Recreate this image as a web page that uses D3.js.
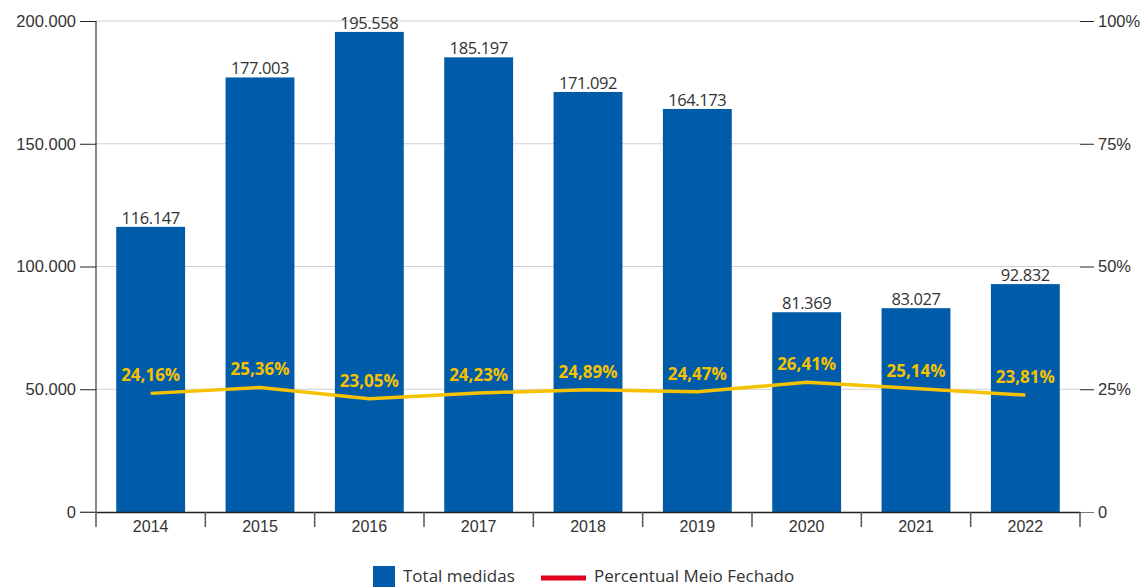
<!DOCTYPE html>
<html>
<head>
<meta charset="utf-8">
<script src="https://cdn.jsdelivr.net/npm/d3@7"></script>
<style>
  body { margin: 0; background: #fff; }
  svg { font-family: "Open Sans", "Noto Sans", sans-serif; }
</style>
</head>
<body>
<script>
// chart data
const years = ['2014','2015','2016','2017','2018','2019','2020','2021','2022'];
const totalMedidas = [116147,177003,195558,185197,171092,164173,81369,83027,92832];
const percMeioFechado = [24.16,25.36,23.05,24.23,24.89,24.47,26.41,25.14,23.81];
const leftTicks = [0,50000,100000,150000,200000];
const rightTicks = [0,25,50,75,100];

const W = 1142, H = 587;
const margin = {top:21, right:62, bottom:75, left:96};
const width = W - margin.left - margin.right;
const height = H - margin.top - margin.bottom;

const svg = d3.select("body").append("svg")
    .attr("width", W)
    .attr("height", H);
const g = svg.append("g")
    .attr("transform", `translate(${margin.left},${margin.top})`);

const ptBR = d3.formatLocale({decimal:",", thousands:".", grouping:[3], currency:["R$",""]});
const fmtInt = ptBR.format(",d");
const fmtPct = ptBR.format(".2f");

const x = d3.scaleBand().domain(years).range([0,width]).paddingInner(0.37).paddingOuter(0.185);
const xb = d3.scaleBand().domain(years).range([0,width]);
const y = d3.scaleLinear().domain([0,200000]).range([height,0]);
const y2 = d3.scaleLinear().domain([0,100]).range([height,0]);

//gridlines
g.selectAll(".grid")
    .data(leftTicks.filter(d => d > 0))
    .enter().append("line")
    .attr("x1",0).attr("x2",width)
    .attr("y1",d => y(d)).attr("y2",d => y(d))
    .attr("stroke","#d0d0d0").attr("stroke-width",1);

//bars
g.selectAll(".bar")
    .data(years)
    .enter().append("rect")
    .attr("x",d => x(d))
    .attr("width",x.bandwidth())
    .attr("y",(d,i) => y(totalMedidas[i]))
    .attr("height",(d,i) => height - y(totalMedidas[i]))
    .attr("fill","#005ca9");

g.selectAll(".barlabel")
    .data(years)
    .enter().append("text")
    .attr("x",d => x(d) + x.bandwidth()/2)
    .attr("y",(d,i) => y(totalMedidas[i]) - 3)
    .attr("text-anchor","middle")
    .style("font-size","16.5px")
    .style("letter-spacing","-0.4px")
    .attr("fill","#333")
    .text((d,i) => fmtInt(totalMedidas[i]));

//left axis
const leftAxis = g.append("g")
    .call(d3.axisLeft(y).tickValues(leftTicks).tickFormat(fmtInt).tickSize(16).tickPadding(4));
leftAxis.select(".domain").attr("stroke","#111").attr("d",`M0,0V${height}`);
leftAxis.selectAll(".tick line").attr("stroke","#222");
leftAxis.selectAll(".tick text").style("font-size","16.5px").attr("fill","#333");

//right axis
const rightAxis = g.append("g")
    .attr("transform",`translate(${width},0)`)
    .call(d3.axisRight(y2).tickValues(rightTicks).tickFormat(d => d === 0 ? "0" : d + "%").tickSize(14).tickPadding(4));
rightAxis.select(".domain").remove();
rightAxis.selectAll(".tick line").attr("stroke","#222");
rightAxis.selectAll(".tick text").style("font-size","16.5px").attr("fill","#333");
rightAxis.select(".tick line").attr("stroke","#777");

//bottom axis
const bottomAxis = g.append("g")
    .attr("transform",`translate(0,${height})`)
    .call(d3.axisBottom(xb).tickSize(0).tickPadding(9));
bottomAxis.select(".domain").attr("stroke","#222").attr("stroke-width",1.5);
bottomAxis.selectAll(".tick text").style("font-size","16px").attr("fill","#333");
bottomAxis.selectAll(".sep")
    .data(d3.range(years.length + 1))
    .enter().append("line")
    .attr("x1",i => i * xb.step()).attr("x2",i => i * xb.step())
    .attr("y1",0).attr("y2",15)
    .attr("stroke","#555").attr("stroke-width",1.5);
g.append("line")
    .attr("x1",-16).attr("x2",0)
    .attr("y1",height).attr("y2",height)
    .attr("stroke","#777");

//line
const line = d3.line()
    .x((d,i) => x(years[i]) + x.bandwidth()/2)
    .y(d => y2(d));
g.append("path")
    .datum(percMeioFechado)
    .attr("d",line)
    .attr("fill","none")
    .attr("stroke","#f6c200")
    .attr("stroke-width",3.5);

g.selectAll(".pctlabel")
    .data(percMeioFechado)
    .enter().append("text")
    .attr("x",(d,i) => x(years[i]) + x.bandwidth()/2)
    .attr("y",d => y2(d) - 12)
    .attr("text-anchor","middle")
    .style("font-size","17px")
    .style("font-weight","bold")
    .attr("fill","#f6c200")
    .text(d => fmtPct(d) + "%");

//legend
const leg = svg.append("g").attr("transform","translate(373,566)");
leg.append("rect").attr("x",0).attr("y",0).attr("width",22).attr("height",21).attr("fill","#005ca9");
leg.append("text").attr("x",30).attr("y",16).style("font-size","17px").attr("fill","#333").text("Total medidas");
leg.append("line").attr("x1",168).attr("x2",213).attr("y1",12).attr("y2",12).attr("stroke","#e0001b").attr("stroke-width",5);
leg.append("text").attr("x",221).attr("y",16).style("font-size","17px").attr("fill","#333").text("Percentual Meio Fechado");
</script>
</body>
</html>
